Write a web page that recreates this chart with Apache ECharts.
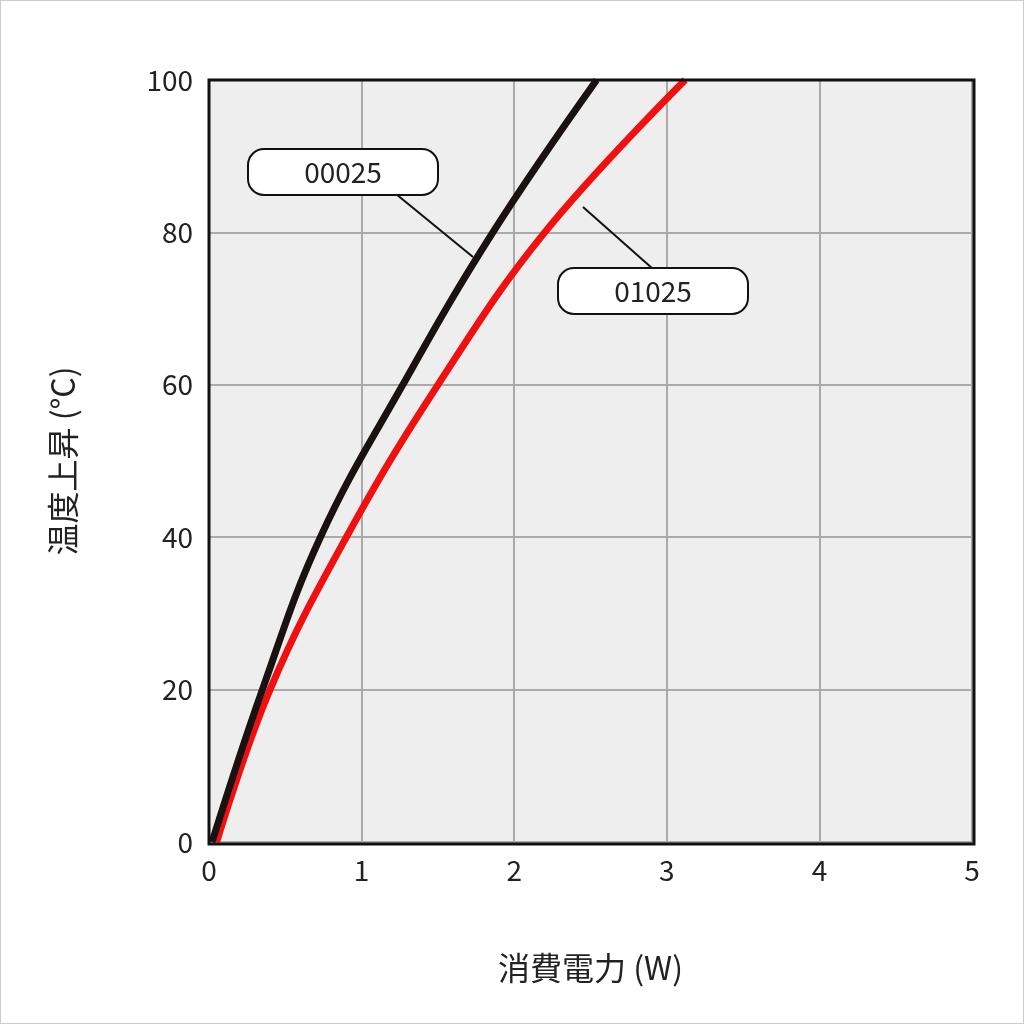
<!DOCTYPE html>
<html><head><meta charset="utf-8">
<script src="https://cdn.jsdelivr.net/npm/echarts@6/dist/echarts.min.js"></script>
<style>html,body{margin:0;padding:0;background:#fff}#c{width:1024px;height:1024px;box-sizing:border-box;border:1px solid #ccc}</style>
</head><body><div id="c"></div>
<script>
const xTicks=[0,1,2,3,4,5];
const yTicks=[0,20,40,60,80,100];
const s00025=[[0.02,0],[0.35,20],[0.73,40],[1.27,60],[1.86,80],[2.54,100]];
const s01025=[[0.05,0],[0.4,20],[0.9,40],[1.5,60],[2.2,80],[3.12,100]];
const ff='"Noto Sans CJK JP","Noto Sans",sans-serif';
const ch=echarts.init(document.getElementById('c'));
ch.setOption({
 animation:false,
 grid:{left:208,top:79,right:51,bottom:181,show:true,backgroundColor:'#eeeeef',borderWidth:0},
 xAxis:{type:'value',min:0,max:5,interval:1,name:'消費電力 (W)',nameLocation:'middle',nameGap:110,
  nameTextStyle:{fontSize:32,color:'#222',fontFamily:ff},
  axisLine:{show:false},axisTick:{show:false},
  axisLabel:{fontSize:28,color:'#222',margin:14,fontFamily:ff},
  splitLine:{lineStyle:{color:'#aaa',width:2}}},
 yAxis:{type:'value',min:0,max:100,interval:20,name:'温度上昇 (°C)',nameLocation:'middle',nameGap:130,
  nameTextStyle:{fontSize:32,color:'#222',fontFamily:ff},
  axisLine:{show:false},axisTick:{show:false},
  axisLabel:{fontSize:28,color:'#222',margin:16,fontFamily:ff},
  splitLine:{lineStyle:{color:'#aaa',width:2}}},
 series:[
  {name:'01025',type:'line',data:s01025,smooth:0.4,symbol:'none',lineStyle:{color:'#f01010',width:7}},
  {name:'00025',type:'line',data:s00025,smooth:0.4,symbol:'none',lineStyle:{color:'#1a1111',width:7}}
 ],
 graphic:[
  {type:'rect',shape:{x:208,y:79,width:765,height:764},style:{fill:'none',stroke:'#111',lineWidth:3},z:9},
  {type:'line',shape:{x1:395,y1:193,x2:472,y2:256},style:{stroke:'#111',lineWidth:2},z:10},
  {type:'line',shape:{x1:582,y1:206,x2:652,y2:268},style:{stroke:'#111',lineWidth:2},z:10},
  {type:'rect',shape:{x:247,y:148,width:190,height:46,r:16},style:{fill:'#fff',stroke:'#111',lineWidth:2},z:11},
  {type:'text',x:342,y:171,style:{text:'00025',fontSize:28,fill:'#222',fontFamily:ff,align:'center',verticalAlign:'middle'},z:12},
  {type:'rect',shape:{x:557,y:267,width:190,height:46,r:16},style:{fill:'#fff',stroke:'#111',lineWidth:2},z:11},
  {type:'text',x:652,y:290,style:{text:'01025',fontSize:28,fill:'#222',fontFamily:ff,align:'center',verticalAlign:'middle'},z:12}
 ]
});
</script></body></html>
